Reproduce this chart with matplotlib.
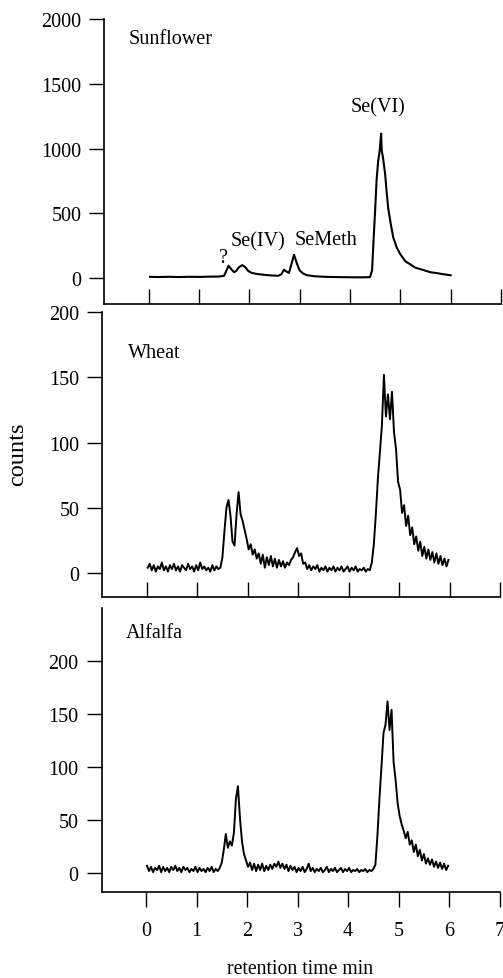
import numpy as np
import matplotlib
matplotlib.use("Agg")
import matplotlib.pyplot as plt

plt.rcParams['font.family'] = ['Liberation Serif', 'DejaVu Serif']

# ---------------- data ----------------
sunflower_time = [0.03, 0.2, 0.4, 0.6, 0.8, 1.0, 1.2, 1.4, 1.50, 1.55, 1.59, 1.64, 1.70,
                  1.74, 1.80, 1.86, 1.92, 1.98, 2.05, 2.15, 2.30, 2.45, 2.58, 2.64, 2.69,
                  2.74, 2.79, 2.84, 2.89, 2.94, 3.0, 3.07, 3.15, 3.3, 3.5, 3.7, 3.9, 4.1,
                  4.3, 4.40, 4.44, 4.47, 4.50, 4.53, 4.56, 4.59, 4.62, 4.63, 4.66, 4.70,
                  4.73, 4.76, 4.81, 4.86, 4.93, 5.0, 5.1, 5.19, 5.3, 5.46, 5.6, 5.72,
                  5.85, 6.0]
sunflower_counts = [10, 8, 10, 8, 10, 9, 11, 12, 18, 60, 95, 70, 45,
                    55, 85, 100, 85, 55, 40, 32, 25, 20, 18, 30, 65,
                    50, 40, 110, 180, 120, 60, 35, 22, 14, 10, 8, 7, 6,
                    6, 8, 60, 300, 520, 760, 900, 980, 1115, 990, 920, 800,
                    660, 540, 420, 314, 235, 185, 130, 108, 80, 62, 45, 39,
                    30, 22]

# wheat and alfalfa: sampled every 0.04 min starting at 0.02 min
scan_start, scan_step = 0.02, 0.04
wheat_counts = [4, 7, 2, 6, 1, 5, 3, 8, 2, 5,
                1, 6, 3, 7, 2, 5, 1, 6, 4, 2,
                7, 3, 5, 1, 6, 2, 8, 3, 5, 2,
                4, 1, 6, 2, 5, 3, 4, 12, 32, 50,
                56, 44, 24, 21, 45, 62, 45, 40, 33, 26,
                18, 22, 14, 18, 11, 15, 7, 14, 4, 12,
                6, 13, 5, 11, 4, 10, 5, 9, 4, 8,
                6, 10, 12, 16, 19, 13, 15, 7, 8, 3,
                6, 2, 5, 3, 6, 1, 4, 2, 5, 1,
                4, 2, 5, 1, 4, 2, 5, 1, 3, 5,
                1, 4, 2, 5, 1, 3, 2, 4, 1, 3,
                2, 8, 22, 45, 72, 92, 113, 152, 120, 137,
                118, 139, 108, 95, 70, 64, 46, 52, 36, 44,
                29, 35, 22, 28, 17, 24, 13, 20, 11, 18,
                10, 16, 8, 15, 7, 13, 6, 11, 5, 10]
alfalfa_counts = [7, 2, 6, 1, 5, 3, 7, 1, 6, 2,
                  5, 1, 6, 3, 7, 2, 5, 1, 6, 3,
                  5, 1, 4, 2, 6, 1, 5, 2, 4, 1,
                  5, 2, 6, 1, 4, 2, 5, 10, 22, 37,
                  24, 30, 26, 38, 70, 82, 52, 30, 18, 12,
                  6, 10, 3, 9, 2, 8, 3, 9, 2, 7,
                  3, 8, 4, 9, 6, 11, 5, 9, 4, 8,
                  2, 7, 3, 6, 1, 5, 2, 6, 1, 4,
                  9, 2, 5, 1, 4, 2, 5, 1, 3, 6,
                  1, 4, 2, 5, 1, 3, 5, 1, 4, 2,
                  5, 1, 3, 2, 4, 1, 3, 2, 4, 1,
                  3, 2, 4, 8, 35, 70, 100, 132, 140, 162,
                  135, 154, 105, 88, 66, 54, 46, 40, 33, 39,
                  27, 31, 20, 27, 16, 22, 12, 18, 9, 14,
                  8, 13, 6, 11, 5, 10, 4, 9, 3, 7]

panel_names = ["Sunflower", "Wheat", "Alfalfa"]
x_ticks = [0, 1, 2, 3, 4, 5, 6, 7]
sunflower_yticks = [0, 500, 1000, 1500, 2000]
wheat_yticks = [0, 50, 100, 150, 200]
alfalfa_yticks = [0, 50, 100, 150, 200]
peak_labels = ["?", "Se(IV)", "SeMeth", "Se(VI)"]
peak_label_x = [1.48, 2.17, 3.52, 4.56]
peak_label_y = [162, 286, 301, 1320]

wheat_time = scan_start + scan_step * np.arange(len(wheat_counts))
alfalfa_time = scan_start + scan_step * np.arange(len(alfalfa_counts))

# ---------------- figure ----------------
W, H = 503, 979
fig = plt.figure(figsize=(W / 100, H / 100), dpi=100)

def rect(left_px, right_px, top_px, bottom_px):
    return [left_px / W, 1 - bottom_px / H, (right_px - left_px) / W, (bottom_px - top_px) / H]

ax1 = fig.add_axes(rect(104.2, 501, 20, 305))
ax2 = fig.add_axes(rect(102.3, 500, 313.3, 598.3))
ax3 = fig.add_axes(rect(101.5, 499.7, 609, 893.3))

series = [(sunflower_time, sunflower_counts, (-200, 2000), sunflower_yticks, 1.5),
          (wheat_time, wheat_counts, (-18.7, 200), wheat_yticks, 1.4),
          (alfalfa_time, alfalfa_counts, (-18, 250), alfalfa_yticks, 1.4)]
name_pos = [(-0.39, 1853), (-0.37, 169), (-0.40, 226.5)]

for i, (ax, (t, c, ylim, yt, lw)) in enumerate(zip([ax1, ax2, ax3], series)):
    ax.plot(t, c, color='black', lw=lw)
    ax.set_xlim(-0.88, 7.0)
    ax.set_ylim(*ylim)
    ax.set_yticks(yt)
    ax.set_xticks(x_ticks)
    ax.spines['top'].set_visible(False)
    ax.spines['right'].set_visible(False)
    for s in ['left', 'bottom']:
        ax.spines[s].set_linewidth(1.2)
    ax.tick_params(axis='y', direction='out', length=10.5, width=1.0, pad=6, labelsize=14.5)
    if i < 2:
        ax.tick_params(axis='x', direction='in', length=10.5, width=1.0, labelbottom=False)
    else:
        ax.tick_params(axis='x', direction='out', length=10.5, width=1.0, pad=10, labelsize=14.5)
    ax.patch.set_alpha(0)
    ax.text(name_pos[i][0], name_pos[i][1], panel_names[i], fontsize=14.5,
            ha='left', va='center')

for lab, lx, ly in zip(peak_labels, peak_label_x, peak_label_y):
    ax1.text(lx, ly, lab, fontsize=14.5, ha='center', va='center')

fig.text(18 / W, 1 - 454 / H, "counts", rotation=90, ha='center', va='center', fontsize=17.5)
fig.text(300 / W, 1 - 970 / H, "retention time min", ha='center', va='center', fontsize=14.2)

fig.savefig("out.png", dpi=100)
